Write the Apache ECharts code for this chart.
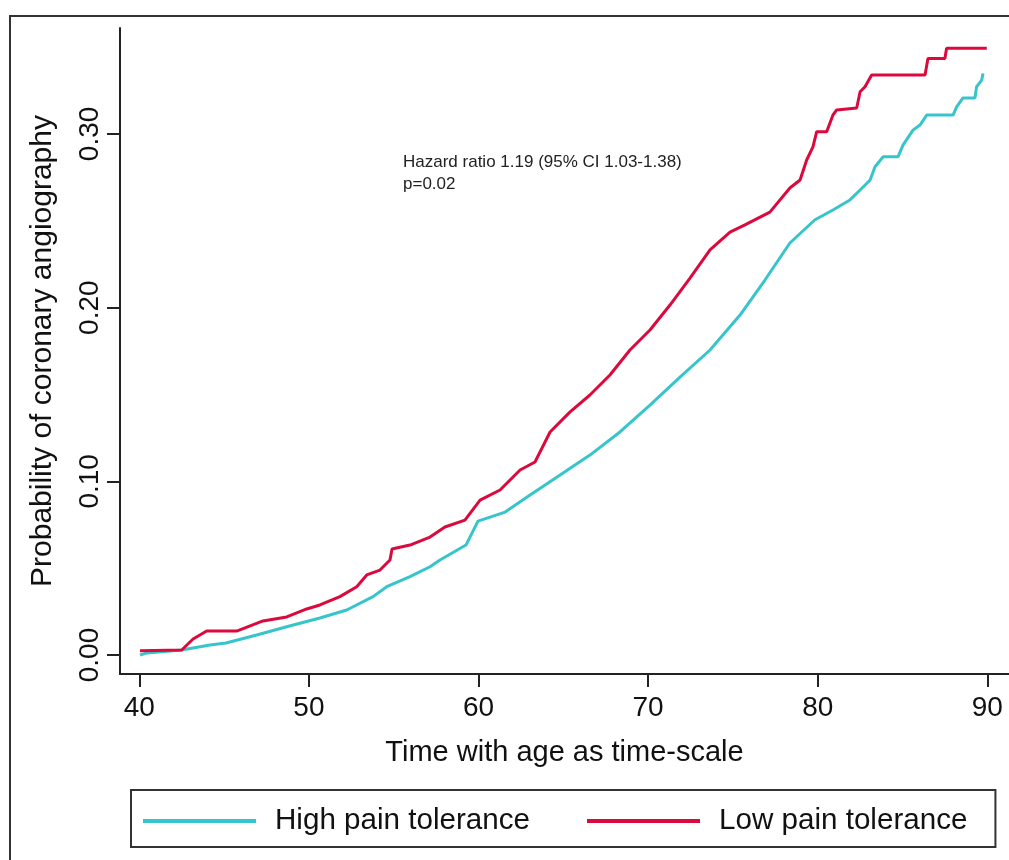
<!DOCTYPE html>
<html>
<head>
<meta charset="utf-8">
<title>Coronary angiography by pain tolerance</title>
<script src="https://cdn.jsdelivr.net/npm/echarts@6/dist/echarts.min.js"></script>
<style>
  html, body { margin: 0; padding: 0; background: #fff; }
  #chart { width: 1009px; height: 860px; }
</style>
</head>
<body>
<div id="chart"></div>
<script>
// tick labels
const xTicks = [40, 50, 60, 70, 80, 90];
const yTicks = [0, 0.1, 0.2, 0.3];

// cumulative probability: [age, probability]
const highPain = [
  [40.04, 0.000], [40.46, 0.0012], [42.5, 0.0029], [44.17, 0.0058], [45.11, 0.0069],
  [46.92, 0.0115], [48.69, 0.0163], [50.65, 0.0213], [52.23, 0.0259], [53.78, 0.0336],
  [54.59, 0.0393], [55.96, 0.0451], [57.14, 0.0508], [57.73, 0.0547], [59.26, 0.0633],
  [59.97, 0.0771], [61.57, 0.0823], [63.04, 0.0921], [64.81, 0.1036], [66.57, 0.1151],
  [68.34, 0.1284], [70.11, 0.1439], [71.88, 0.160], [73.65, 0.1756], [75.42, 0.1957],
  [76.89, 0.2159], [78.36, 0.2372], [79.84, 0.2506], [80.9, 0.2562], [81.9, 0.262],
  [82.5, 0.2677], [83.09, 0.2735], [83.38, 0.2811], [83.86, 0.2869], [84.74, 0.2869],
  [85.03, 0.2936], [85.62, 0.3022], [86.03, 0.3051], [86.43, 0.3109], [87.98, 0.3109],
  [88.2, 0.3157], [88.57, 0.3207], [89.27, 0.3207], [89.37, 0.3272], [89.67, 0.331],
  [89.75, 0.3349]
];
const lowPain = [
  [40.04, 0.0025], [42.5, 0.0029], [43.17, 0.0092], [43.97, 0.0138], [45.74, 0.0138],
  [47.29, 0.0196], [48.69, 0.0219], [49.87, 0.0265], [50.65, 0.0288], [51.83, 0.0336],
  [52.82, 0.0393], [53.41, 0.0461], [54.19, 0.0489], [54.78, 0.0547], [54.9, 0.061],
  [55.96, 0.0633], [57.14, 0.0679], [58.02, 0.0737], [59.2, 0.0777], [60.09, 0.0892],
  [61.27, 0.095], [62.45, 0.1065], [63.33, 0.1111], [64.22, 0.1284], [65.4, 0.140],
  [66.57, 0.1497], [67.75, 0.1612], [68.93, 0.1756], [70.11, 0.1871], [71.29, 0.2015],
  [72.47, 0.217], [73.65, 0.2332], [74.83, 0.2435], [75.71, 0.2476], [77.18, 0.255],
  [78.36, 0.2689], [78.96, 0.2735], [79.35, 0.285], [79.72, 0.2926], [79.94, 0.3013],
  [80.53, 0.3013], [80.9, 0.3109], [81.12, 0.3138], [82.3, 0.3149], [82.5, 0.3243],
  [82.79, 0.3272], [83.18, 0.3339], [86.33, 0.3339], [86.5, 0.3435], [87.5, 0.3435],
  [87.6, 0.3493], [89.97, 0.3493]
];

const font = "'Liberation Sans', Arial, Helvetica, sans-serif";
const axisColor = "#222";

const chart = echarts.init(document.getElementById("chart"));

const buildSeries = (name, color, data) => ({
  name,
  type: "line",
  data,
  showSymbol: false,
  symbol: "none",
  color,
  lineStyle: { width: 3, color },
  emphasis: { disabled: true },
  animation: false
});

chart.setOption({
  animation: false,
  backgroundColor: "#fff",
  textStyle: { fontFamily: font },
  grid: { left: 120, right: 0, top: 28, bottom: 186, containLabel: false },
  graphic: [
    {
      type: "rect",
      shape: { x: 10, y: 16, width: 1040, height: 900 },
      style: { fill: "none", stroke: "#333", lineWidth: 2 },
      silent: true
    },
    {
      type: "text",
      left: 403,
      top: 151,
      style: {
        text: "Hazard ratio 1.19 (95% CI 1.03-1.38)\np=0.02",
        font: "17px " + font,
        fill: "#222",
        lineHeight: 22
      }
    }
  ],
  legend: {
    left: 131,
    top: 790,
    orient: "horizontal",
    backgroundColor: "#fff",
    borderColor: "#333",
    borderWidth: 2,
    borderRadius: 0,
    padding: [16, 28, 11, 12],
    itemGap: 57,
    itemWidth: 113,
    itemHeight: 4,
    icon: "rect",
    textStyle: { fontSize: 29.6, color: "#111", fontFamily: font, padding: [0, 0, 0, 14] },
    data: ["High pain tolerance", "Low pain tolerance"]
  },
  xAxis: {
    type: "value",
    min: 38.86,
    max: 91.28,
    name: "Time with age as time-scale",
    nameLocation: "middle",
    nameGap: 64,
    nameTextStyle: { fontSize: 29, color: "#111", fontFamily: font },
    axisLine: { show: true, onZero: false, lineStyle: { color: axisColor, width: 2 } },
    axisTick: { show: true, length: 13, lineStyle: { color: axisColor, width: 2 }, customValues: xTicks },
    axisLabel: { fontSize: 28, color: "#111", margin: 20, customValues: xTicks },
    splitLine: { show: false }
  },
  yAxis: {
    type: "value",
    min: -0.01094,
    max: 0.361,
    name: "Probability of coronary angiography",
    nameLocation: "middle",
    nameGap: 62,
    nameTextStyle: { fontSize: 30, color: "#111", fontFamily: font },
    axisLine: { show: true, onZero: false, lineStyle: { color: axisColor, width: 2 } },
    axisTick: { show: true, length: 13, lineStyle: { color: axisColor, width: 2 }, customValues: yTicks },
    axisLabel: {
      fontSize: 28,
      color: "#111",
      rotate: 90,
      margin: 16,
      customValues: yTicks,
      formatter: (v) => v.toFixed(2)
    },
    splitLine: { show: false }
  },
  series: [
    buildSeries("High pain tolerance", "#36C5CA", highPain),
    buildSeries("Low pain tolerance", "#DC0A3C", lowPain)
  ]
});
</script>
</body>
</html>
